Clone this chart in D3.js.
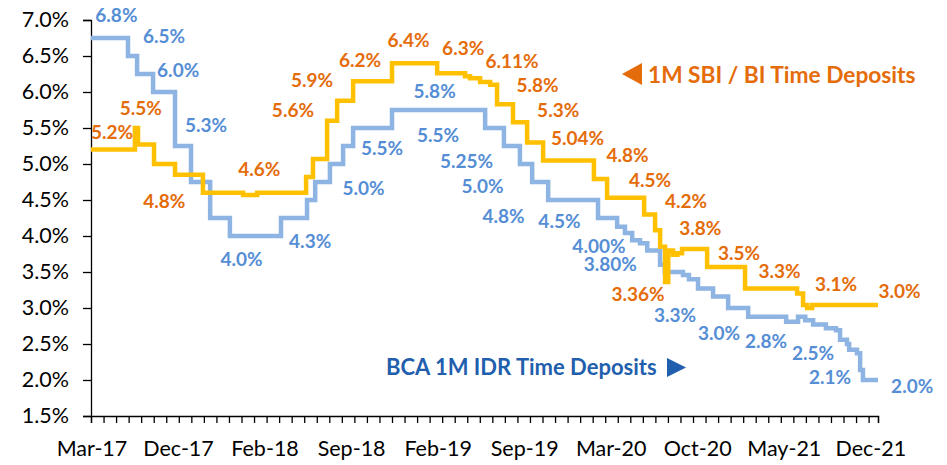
<!DOCTYPE html>
<html>
<head>
<meta charset="utf-8">
<script src="https://cdn.jsdelivr.net/npm/d3@7"></script>
<style>
    body { margin: 0; background: #fff; }
    .visual { width: 947px; height: 465px; position: relative; }
</style>
</head>
<body>
<div class="visual"></div>
<script>
// x is a week index (0 = Mar-17), y is the rate in %
const blueWeeks = [0, 11.8, 14.7, 19.8, 26.8, 31.9, 38.0, 44.3, 60.6, 68.9, 71.5, 76.2, 80.4, 83.6, 96.0,
    125.7, 131.7, 136.8, 140.7, 145.8, 161.7, 167.8, 170.3, 172.6, 175.1, 177.4, 181.5, 183.0, 188.8, 190.7,
    193.6, 198.4, 203.2, 209.6, 221.7, 225.5, 227.8, 230.3, 234.4, 237.6, 238.9, 241.1, 241.8, 244.3, 245.3,
    246.2, 251];
const blueRates = [6.75, 6.5, 6.25, 6.0, 5.25, 4.75, 4.25, 4.0, 4.25, 4.5, 4.75, 5.0, 5.25, 5.5, 5.75,
    5.5, 5.25, 5.0, 4.75, 4.5, 4.25, 4.13, 4.04, 3.94, 3.9, 3.8, 3.6, 3.5, 3.46, 3.4,
    3.27, 3.16, 3.0, 2.88, 2.81, 2.88, 2.83, 2.77, 2.72, 2.69, 2.56, 2.5, 2.42, 2.37, 2.14,
    2.0, 2.0];

const sbiWeeks = [0, 14.0, 15.0, 20.1, 26.8, 35.7, 48.5, 53.0, 68.6, 70.8, 75.3, 78.5, 83.6, 96.0,
    110.4, 119.3, 120.9, 124.1, 127.3, 129.5, 134.6, 139.1, 144.2, 160.4, 164.6, 176.4, 179.9, 181.5,
    183.1, 184.1, 185.6, 187.0, 188.5, 196.5, 208.6, 223.9, 225.2, 227.1, 228.4, 230.0, 251];
const sbiRates = [5.2, 5.5, 5.27, 5.0, 4.85, 4.6, 4.57, 4.6, 4.82, 5.07, 5.6, 5.88, 6.15, 6.4,
    6.26, 6.22, 6.19, 6.14, 6.1, 5.83, 5.58, 5.3, 5.05, 4.79, 4.53, 4.3, 4.08, 3.85,
    3.36, 3.8, 3.74, 3.76, 3.82, 3.57, 3.27, 3.27, 3.2, 3.04, 3.0, 3.04, 3.04];

// data labels: [week, rate, text]
const blueLabels = [
    [8.1, 6.97, "6.8%"], [23.3, 6.68, "6.5%"], [27.8, 6.21, "6.0%"], [36.7, 5.44, "5.3%"],
    [48.0, 3.58, "4.0%"], [69.9, 3.83, "4.3%"], [86.9, 4.57, "5.0%"], [92.8, 5.13, "5.5%"],
    [109.6, 5.92, "5.8%"], [110.7, 5.31, "5.5%"], [119.8, 4.94, "5.25%"], [124.9, 4.6, "5.0%"],
    [131.6, 4.18, "4.8%"], [149.4, 4.11, "4.5%"], [162.0, 3.77, "4.00%"], [165.6, 3.52, "3.80%"],
    [186.3, 2.81, "3.3%"], [200.3, 2.56, "3.0%"], [215.3, 2.44, "2.8%"], [230.3, 2.28, "2.5%"],
    [235.7, 1.94, "2.1%"], [261.9, 1.82, "2.0%"]
];
const sbiLabels = [
    [6.7, 5.35, "5.2%"], [15.9, 5.68, "5.5%"], [23.4, 4.39, "4.8%"], [53.7, 4.83, "4.6%"],
    [64.4, 5.65, "5.6%"], [70.5, 6.07, "5.9%"], [85.8, 6.35, "6.2%"], [101.3, 6.63, "6.4%"],
    [118.7, 6.51, "6.3%"], [134.3, 6.33, "6.11%"], [142.4, 6.0, "5.8%"], [149.0, 5.65, "5.3%"],
    [155.2, 5.26, "5.04%"], [171.1, 5.03, "4.8%"], [178.3, 4.68, "4.5%"], [189.8, 4.39, "4.2%"],
    [194.3, 4.01, "3.8%"], [174.5, 3.1, "3.36%"], [206.7, 3.67, "3.5%"], [219.6, 3.42, "3.3%"],
    [237.6, 3.24, "3.1%"], [257.9, 3.14, "3.0%"]
];

const xTickLabels = ["Mar-17", "Dec-17", "Feb-18", "Sep-18", "Feb-19", "Sep-19", "Mar-20", "Oct-20", "May-21", "Dec-21"];
const labelStep = 27.6;   // weeks between x labels
const tickStep = 4;       // weeks between x ticks
const yTicks = [1.5, 2.0, 2.5, 3.0, 3.5, 4.0, 4.5, 5.0, 5.5, 6.0, 6.5, 7.0];

const sbiName = "1M SBI / BI Time Deposits";
const bcaName = "BCA 1M IDR Time Deposits";

function display() {
    const width = 947, height = 465;
    const left = 91, right = 878, top = 20, bottom = 416;

    const svg = d3.select(".visual")
        .append("svg")
        .attr("width", width)
        .attr("height", height);

    const x = d3.scaleLinear().domain([0, 251]).range([left, right]);
    const y = d3.scaleLinear().domain([1.5, 7.0]).range([bottom, top]);

    // y axis
    const yAxis = d3.axisLeft(y)
        .tickValues(yTicks)
        .tickFormat(d => d.toFixed(1) + "%")
        .tickSize(8)
        .tickPadding(14);
    const gy = svg.append("g")
        .attr("transform", `translate(${left},0)`)
        .call(yAxis);
    gy.selectAll("text")
        .style("font-family", "Lato, sans-serif")
        .style("font-size", "21.5px")
        .attr("fill", "#000");

    // x axis
    const xTicks = d3.range(0, 251, tickStep).concat([251]);
    const xAxis = d3.axisBottom(x)
        .tickValues(xTicks)
        .tickFormat("")
        .tickSize(7);
    svg.append("g")
        .attr("transform", `translate(0,${bottom})`)
        .call(xAxis);

    svg.selectAll(".domain, .tick line")
        .attr("stroke", "#000")
        .attr("stroke-width", 1.3);

    svg.append("g")
        .selectAll("text")
        .data(xTickLabels)
        .enter()
        .append("text")
        .attr("x", (d, i) => x(i * labelStep) + 1)
        .attr("y", 456)
        .attr("text-anchor", "middle")
        .style("font-family", "Lato, sans-serif")
        .style("font-size", "21.5px")
        .attr("fill", "#000")
        .text(d => d);

    // lines
    const line = d3.line()
        .x(d => x(d[0]))
        .y(d => y(d[1]))
        .curve(d3.curveStepAfter);

    svg.append("path")
        .datum(blueWeeks.map((w, i) => [w, blueRates[i]]))
        .attr("d", line)
        .attr("fill", "none")
        .attr("stroke", "#8DB4E2")
        .attr("stroke-width", 4.5);

    svg.append("path")
        .datum(sbiWeeks.map((w, i) => [w, sbiRates[i]]))
        .attr("d", line)
        .attr("fill", "none")
        .attr("stroke", "#FFC000")
        .attr("stroke-width", 4.5);

    // data labels
    function addLabels(rows, color) {
        svg.append("g")
            .selectAll("text")
            .data(rows)
            .enter()
            .append("text")
            .attr("x", d => x(d[0]))
            .attr("y", d => y(d[1]))
            .attr("text-anchor", "middle")
            .style("font-family", "Lato, sans-serif")
            .style("font-size", "19px")
            .style("font-weight", "bold")
            .attr("fill", color)
            .text(d => d[2]);
    }
    addLabels(blueLabels, "#558ED5");
    addLabels(sbiLabels, "#E46C0A");

    // series names with arrows
    svg.append("path")
        .attr("d", "M622,74 L642,63 L642,85 Z")
        .attr("fill", "#E46C0A");
    svg.append("text")
        .attr("x", 648)
        .attr("y", 83)
        .style("font-family", "Lato, sans-serif")
        .style("font-size", "22.7px")
        .style("font-weight", "bold")
        .attr("fill", "#E46C0A")
        .text(sbiName);

    svg.append("text")
        .attr("x", 386)
        .attr("y", 375)
        .style("font-family", "Lato, sans-serif")
        .style("font-size", "22px")
        .style("font-weight", "bold")
        .attr("fill", "#1F5FAD")
        .text(bcaName);
    svg.append("path")
        .attr("d", "M667,358 L686,367.5 L667,377 Z")
        .attr("fill", "#1F5FAD");
}

window.onload = function() {
    display();
};
</script>
</body>
</html>
